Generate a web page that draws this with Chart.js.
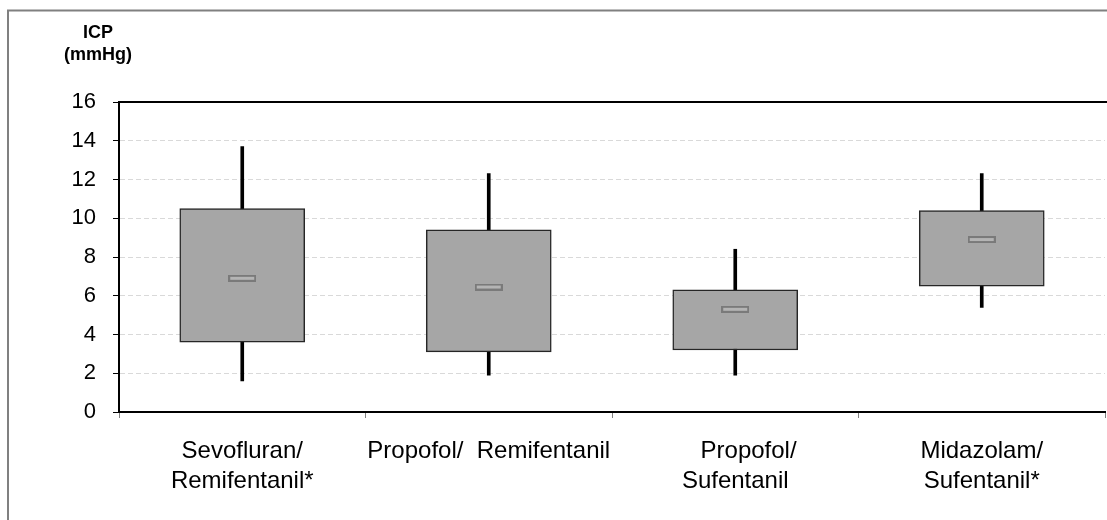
<!DOCTYPE html>
<html><head><meta charset="utf-8">
<script src="https://cdn.jsdelivr.net/npm/chart.js@4.4.0/dist/chart.umd.min.js"></script>
<style>
html,body{margin:0;padding:0;background:#fff;overflow:hidden;}
#wrap{position:absolute;left:0;top:0;width:1116px;height:520px;}
</style></head><body>
<div id="wrap"><canvas id="c"></canvas></div>
<script>
const categories = [['Sevofluran/', 'Remifentanil*'], 'Propofol/  Remifentanil', ['    Propofol/', 'Sufentanil'], ['Midazolam/', 'Sufentanil*']];
const whiskerMin = [1.6, 1.9, 1.9, 5.4];
const quartile1 = [3.6, 3.1, 3.2, 6.5];
const medians = [6.9, 6.45, 5.3, 8.9];
const quartile3 = [10.5, 9.4, 6.3, 10.4];
const whiskerMax = [13.7, 12.3, 8.4, 12.3];
const yMin = 0, yMax = 16, yStep = 2;
const yTitle = ['ICP', '(mmHg)'];

const FONT = "'Liberation Sans', Arial, sans-serif";

const mk = document.createElement('canvas');
mk.width = 28; mk.height = 7;
const mctx = mk.getContext('2d');
mctx.fillStyle = '#b4b4b4';
mctx.fillRect(0, 0, 28, 7);
mctx.strokeStyle = '#7a7a7a'; mctx.lineWidth = 2;
mctx.strokeRect(1, 1, 26, 5);

const decor = {
  id: 'decor',
  beforeDraw(chart) {
    const ctx = chart.ctx;
    ctx.save();
    ctx.strokeStyle = '#808080'; ctx.lineWidth = 2;
    ctx.beginPath(); ctx.moveTo(8, 700); ctx.lineTo(8, 10.5); ctx.lineTo(2000, 10.5); ctx.stroke();
    ctx.fillStyle = '#000';
    ctx.font = 'bold 18px ' + FONT;
    ctx.textAlign = 'center'; ctx.textBaseline = 'alphabetic';
    ctx.fillText(yTitle[0], 98, 38);
    ctx.fillText(yTitle[1], 98, 60);
    ctx.restore();
  },
  afterDraw(chart) {
    const ctx = chart.ctx, a = chart.chartArea;
    ctx.save();
    ctx.strokeStyle = '#000'; ctx.lineWidth = 2;
    ctx.beginPath(); ctx.moveTo(a.left - 1, a.top); ctx.lineTo(a.right + 2, a.top); ctx.stroke();
    ctx.restore();
  }
};

new Chart(document.getElementById('c'), {
  type: 'bar',
  data: {
    labels: categories,
    datasets: [
      { type: 'line', data: medians, showLine: false, pointStyle: mk, pointRadius: 10, order: 1 },
      { data: quartile1.map((v, i) => [v, quartile3[i]]), backgroundColor: '#a6a6a6', borderColor: '#262626', borderWidth: 1.5, borderSkipped: false, barThickness: 125, grouped: false, order: 2 },
      { data: whiskerMin.map((v, i) => [v, whiskerMax[i]]), backgroundColor: '#000', borderWidth: 0, barThickness: 3, grouped: false, order: 3 }
    ]
  },
  options: {
    animation: false, responsive: true, maintainAspectRatio: false,
    layout: { padding: { left: 0, right: 4, top: 102, bottom: 0 } },
    plugins: { legend: { display: false }, tooltip: { enabled: false } },
    scales: {
      x: {
        grid: { drawOnChartArea: false, drawTicks: true, tickLength: 6, color: '#808080', lineWidth: 1, offset: true },
        border: { color: '#000', width: 2 },
        ticks: { font: { family: FONT, size: 24, lineHeight: 1.22 }, color: '#000', padding: 19, maxRotation: 0, autoSkip: false },
        afterFit(s) { s.height = 108; }
      },
      y: {
        min: yMin, max: yMax,
        ticks: { stepSize: yStep, font: { family: FONT, size: 22 }, color: '#000', padding: 17 },
        grid: { color: c => (c.tick && (c.tick.value === yMin || c.tick.value === yMax)) ? 'rgba(0,0,0,0)' : '#d9d9d9', tickColor: '#000', tickLength: 6, lineWidth: 1 },
        border: { color: '#000', width: 2, dash: [5, 3] },
        afterFit(s) { s.width = 119; }
      }
    }
  },
  plugins: [decor]
});
</script>
</body></html>
